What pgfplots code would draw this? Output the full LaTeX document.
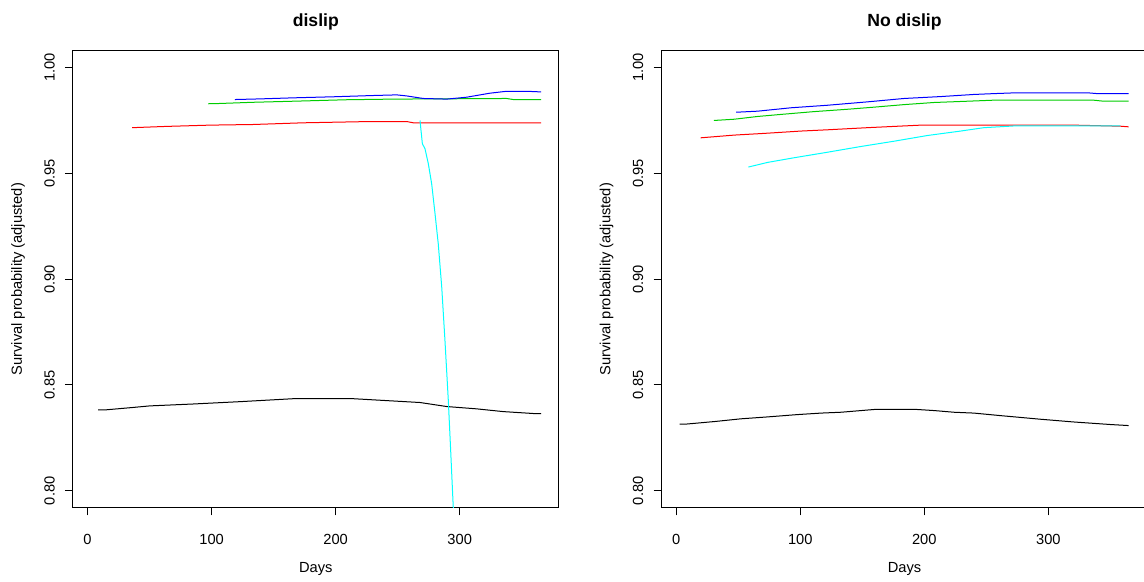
\documentclass[border=0pt]{standalone}
\usepackage{pgfplots}
\pgfplotsset{compat=1.18}
\usepackage{fontspec}
\setmainfont{Liberation Sans}

\definecolor{rgreen}{HTML}{00CD00}
\definecolor{rcyan}{HTML}{00FFFF}

\pgfplotsset{
  rbase/.style={
    scale only axis,
    width=364.7pt, height=342.75pt,
    anchor=south west,
    xmin=-12, xmax=380,
    ymin=0.792, ymax=1.008,
    xtick={0,100,200,300},
    ytick={0.80,0.85,0.90,0.95,1.00},
    tick align=outside,
    xtick pos=bottom, ytick pos=left,
    major tick length=5.8pt,
    tick style={black, line width=0.7pt},
    axis line style={black, line width=0.8pt},
    font=\fontsize{11}{13}\selectfont,
    /pgf/number format/assume math mode=true,
    yticklabel style={/pgf/number format/.cd, fixed, fixed zerofill, precision=2, /tikz/.cd,
                      rotate=90, anchor=south, inner sep=0pt},
    xticklabel style={inner sep=0pt, anchor=north},
    x tick label style={yshift=-14pt},
    % labels are rotated, so this shift moves them away from the axis
    y tick label style={yshift=7.5pt},
    xlabel={Days},
    ylabel={Survival probability (adjusted)},
    xlabel style={at={(axis description cs:0.5,-0.1335)}, anchor=center, inner sep=0pt},
    ylabel style={at={(axis description cs:-0.1124,0.5)}, anchor=center, rotate=0, inner sep=0pt},
    title style={at={(axis description cs:0.5,1.045)}, anchor=center, inner sep=0pt,
                 font=\fontsize{13.2}{15}\selectfont\bfseries},
    every axis plot/.append style={line width=0.75pt, no markers},
  }
}

\begin{document}
\begin{tikzpicture}
\path[use as bounding box] (0,0) rectangle (858pt,435.75pt);
\clip (0,0) rectangle (858pt,435.75pt);

% ---------------- left panel: dislip ----------------
\begin{axis}[rbase, at={(54.5pt,55pt)}, title={dislip}]
\addplot[black] coordinates {
(8.5,0.8382) (14,0.8382) (35.5,0.8393) (50.2,0.8401) (85.2,0.8410) (122.8,0.8421)
(165.8,0.8435) (214.2,0.8435) (241.1,0.8426) (268,0.8417) (289.5,0.8398)
(313.7,0.8387) (335.2,0.8374) (359.4,0.8365) (365.6,0.8365)};
\addplot[red] coordinates {
(36.0,0.9716) (63.7,0.9722) (98.6,0.9728) (133.5,0.9731) (173.9,0.9739)
(227.7,0.9745) (257.3,0.9745) (262.6,0.9739) (365.6,0.9739)};
\addplot[rgreen] coordinates {
(97.3,0.9829) (105,0.9830) (133.5,0.9836) (165.8,0.9841) (208.8,0.9848)
(246.4,0.9851) (337.7,0.9854) (343.2,0.9849) (365.6,0.9849)};
\addplot[blue] coordinates {
(118.8,0.9849) (139,0.9852) (165.8,0.9857) (198.1,0.9862) (230.3,0.9868)
(249.2,0.9871) (257.3,0.9866) (270.6,0.9854) (289.5,0.9851) (305.6,0.9860)
(324.4,0.9879) (337.7,0.9888) (354,0.9888) (365.6,0.9885)};
\addplot[rcyan] coordinates {
(268.0,0.9750) (269.9,0.9640) (272.0,0.9617) (274.7,0.9546) (277.4,0.9451)
(280.1,0.9310) (282.7,0.9168) (285.5,0.8964) (288.1,0.8712) (290.8,0.8429)
(292.7,0.8193) (294.8,0.7923) (296.0,0.7850)};
\end{axis}

% ---------------- right panel: No dislip ----------------
\begin{axis}[rbase, at={(496pt,55pt)}, title={No dislip}]
\addplot[black] coordinates {
(2.7,0.8315) (8,0.8315) (30.8,0.8327) (52.3,0.8340) (73.8,0.8349) (97.9,0.8360)
(116.7,0.8367) (132.7,0.8371) (159.5,0.8384) (194.4,0.8384) (207.8,0.8379)
(223.9,0.8371) (240,0.8367) (261.5,0.8355) (293.6,0.8338) (320.4,0.8325)
(350,0.8313) (364.7,0.8308)};
\addplot[red] coordinates {
(19.6,0.9668) (46.9,0.9681) (71.0,0.9689) (100.6,0.9700) (122,0.9706)
(154.2,0.9716) (175.6,0.9722) (197.1,0.9728) (320.4,0.9728) (358,0.9723)
(364.7,0.9720)};
\addplot[rgreen] coordinates {
(30.3,0.9750) (46.9,0.9756) (65.7,0.9769) (87.1,0.9780) (111.3,0.9792)
(138.1,0.9803) (159.5,0.9813) (183.7,0.9825) (207.8,0.9835) (234.7,0.9841)
(256.1,0.9846) (336.5,0.9846) (344.6,0.9841) (364.7,0.9841)};
\addplot[blue] coordinates {
(48.3,0.9789) (65.7,0.9794) (92.5,0.9810) (122,0.9822) (154.2,0.9838)
(183.7,0.9854) (213.2,0.9863) (240,0.9873) (256.1,0.9877) (274.9,0.9881)
(331.2,0.9881) (339.3,0.9877) (364.7,0.9877)};
\addplot[rcyan] coordinates {
(58.2,0.9530) (73.8,0.9552) (95.2,0.9574) (122,0.9600) (148.8,0.9627)
(175.6,0.9652) (202.5,0.9679) (229.3,0.9700) (248,0.9716) (274.9,0.9725)
(358,0.9725)};
\end{axis}
\end{tikzpicture}
\end{document}
